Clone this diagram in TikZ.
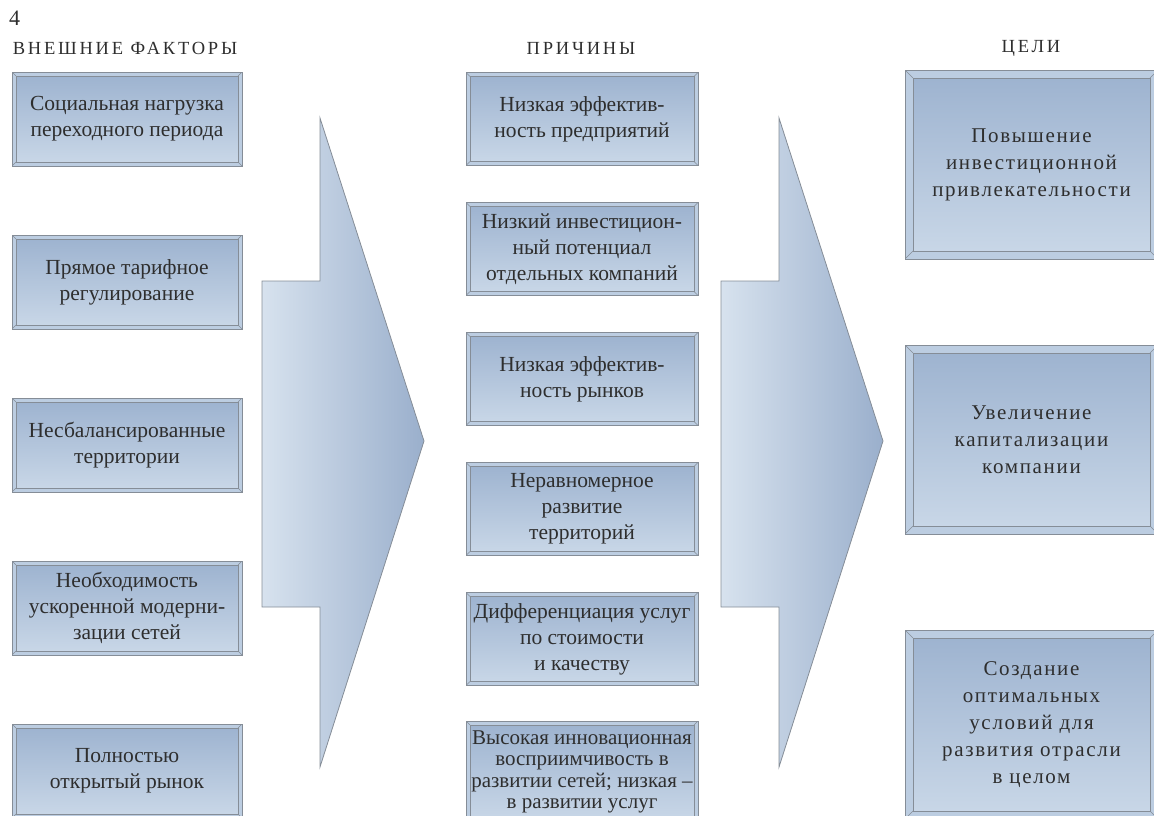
\documentclass[tikz,border=0pt]{standalone}
\usepackage{fontspec}
\setmainfont{Liberation Serif}
\newfontfamily\razryad[LetterSpace=15]{Liberation Serif}
\newfontfamily\razryadc[LetterSpace=8]{Liberation Serif}

\definecolor{kraj}{HTML}{858D97}
\definecolor{fask}{HTML}{BCCDE1}
\definecolor{verh}{HTML}{9CB2CF}
\definecolor{niz}{HTML}{CAD8E8}
\definecolor{strelkaL}{HTML}{D7E2EE}
\definecolor{strelkaR}{HTML}{9AAFCC}
\definecolor{tekstcol}{HTML}{2E2E2E}

\begin{document}
\begin{tikzpicture}[x=1pt,y=-1pt,
    tekst/.style={text=tekstcol, align=center},
    ramka/.style={tekst, rectangle, draw=kraj, fill=fask, inner sep=0pt, line width=0.8pt,
        path picture={
            \shade[top color=verh, bottom color=niz, draw=kraj, line width=0.8pt]
                ([xshift=#1,yshift=-#1]path picture bounding box.north west) rectangle
                ([xshift=-#1,yshift=#1]path picture bounding box.south east);
            \draw[kraj, line width=0.5pt]
                (path picture bounding box.north west) -- ++(#1,-#1)
                (path picture bounding box.north east) -- ++(-#1,-#1)
                (path picture bounding box.south west) -- ++(#1,#1)
                (path picture bounding box.south east) -- ++(-#1,#1);
        }},
    faktor/.style={ramka=4pt, minimum width=230pt, minimum height=94pt,
        font=\fontsize{21.5}{26}\selectfont},
    prichina/.style={ramka=4pt, minimum width=232pt, minimum height=93pt,
        font=\fontsize{21.5}{26}\selectfont},
    cel/.style={ramka=8pt, minimum width=253pt, minimum height=189pt,
        font=\razryadc\fontsize{21}{27}\selectfont},
    zagolovok/.style={tekst, font=\razryad\fontsize{18.5}{20}\selectfont}]

    \useasboundingbox (0,0) rectangle (1154,815);

    % Номер
    \node[tekst, anchor=north west, inner sep=0pt, font=\fontsize{22}{24}\selectfont] (nomer) at (9,11) {4};

    % Заголовки
    \node[zagolovok] (zfaktory) at (125,48) {ВНЕШНИЕ ФАКТОРЫ};
    \node[zagolovok] (zprichiny) at (581,48) {ПРИЧИНЫ};
    \node[zagolovok] (zceli) at (1031,48) {ЦЕЛИ};

    % Большие стрелки
    \foreach \dx in {0,459} {
        \shade[xshift=\dx, left color=strelkaL, right color=strelkaR, draw=kraj, line width=0.8pt]
            (262,281) -- (320,281) -- (320,118) -- (424,441) -- (320,767)
            -- (320,607) -- (262,607) -- cycle;
    }

    % Внешние факторы
    \foreach \t [count=\i] in {{Социальная нагрузка\\переходного периода},
                               {Прямое тарифное\\регулирование},
                               {Несбалансированные\\территории},
                               {Необходимость\\ускоренной модерни-\\зации сетей},
                               {Полностью\\открытый рынок}} {
        \node[faktor] (f\i) at (127,{119+163*(\i-1)}) {\t};
    }

    % Причины
    \foreach \t [count=\i] in {{Низкая эффектив-\\ность предприятий},
                               {Низкий инвестицион-\\ный потенциал\\отдельных компаний},
                               {Низкая эффектив-\\ность рынков},
                               {Неравномерное\\развитие\\территорий},
                               {Дифференциация услуг\\по стоимости\\и качеству}} {
        \node[prichina] (p\i) at (582,{119+130*(\i-1)}) {\t};
    }
    \node[prichina, minimum height=102pt, font=\fontsize{21}{21.5}\selectfont] (p6) at (582,772)
        {Высокая инновационная\\восприимчивость в\\развитии сетей; низкая --\\в развитии услуг};

    % Цели
    \node[cel] (c1) at (1031.5,164.5) {Повышение\\инвестиционной\\привлекательности};
    \node[cel] (c2) at (1031.5,439.5) {Увеличение\\капитализации\\компании};
    \node[cel] (c3) at (1031.5,724.5) {Создание\\оптимальных\\условий для\\развития отрасли\\в целом};

\end{tikzpicture}
\end{document}
